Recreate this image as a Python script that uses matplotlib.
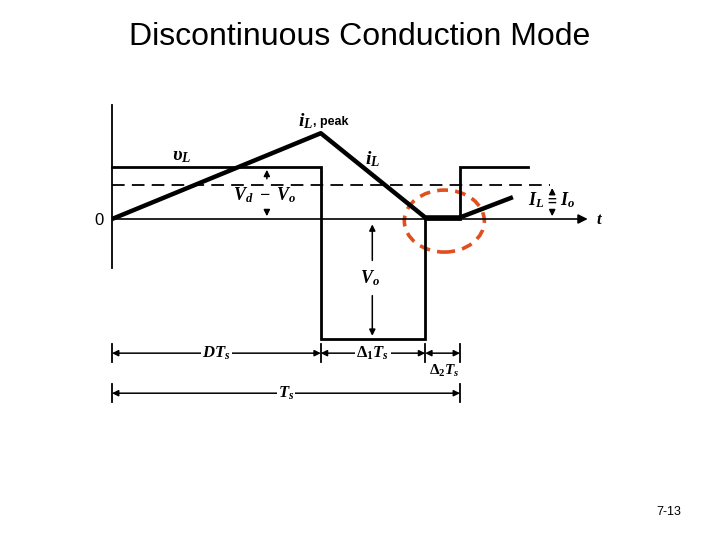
import matplotlib.pyplot as plt
from matplotlib.patches import Ellipse

plt.rcParams['font.family'] = ['Liberation Sans', 'DejaVu Sans']
plt.rcParams['mathtext.fontset'] = 'custom'
plt.rcParams['mathtext.it'] = 'Liberation Serif:italic:bold'
plt.rcParams['mathtext.rm'] = 'Liberation Serif:bold'
plt.rcParams['mathtext.bf'] = 'Liberation Serif:italic:bold'

# waveform data (time in units of Ts, levels in units of Vd - Vo)
D = 0.60          # DTs
delta1 = 0.30     # Δ1Ts
delta2 = 0.10     # Δ2Ts
Vd_minus_Vo = 1.0
Vo = 2.3
iL_peak = 1.65
IL = 0.65
t_end = 1.195

vL_t = [0, D, D, D + delta1, D + delta1, D + delta1 + delta2, D + delta1 + delta2, t_end]
vL_v = [Vd_minus_Vo, Vd_minus_Vo, -Vo, -Vo, 0, 0, Vd_minus_Vo, Vd_minus_Vo]
iL_t = [0, D, D + delta1, D + delta1 + delta2, 1.152]
iL_v = [0, iL_peak, 0.03, 0.03, 0.42]

Ts = D + delta1 + delta2

fig = plt.figure(figsize=(7.2, 5.4), dpi=100)
ax = fig.add_axes([0, 0, 1, 1])
ax.set_xlim(-112 / 348, 608 / 348)
ax.set_ylim(-321 / 52, 219 / 52)
ax.axis('off')

k = 'black'
# axes of the diagram
ax.plot([0, 0], [-0.95, 2.19], color=k, lw=1.3)
ax.annotate('', xy=(1.375, 0), xytext=(0, 0),
            arrowprops=dict(arrowstyle='-|>', color=k, lw=1.2, mutation_scale=14))
ax.text(1.39, 0, '$t$', fontsize=12, va='center', ha='left')
ax.text(-0.025, -0.03, '0', fontsize=12, va='center', ha='right')

# dashed average level
ax.plot([0, 1.26], [IL, IL], color=k, lw=1.3, dashes=(7, 4))

# vL and iL
ax.plot(vL_t, vL_v, color=k, lw=2.0, solid_joinstyle='miter')
ax.plot(iL_t, iL_v, color=k, lw=3.2, solid_capstyle='butt')

# labels
ax.text(0.2, 1.2, r'$\upsilon_L$', fontsize=14, ha='center', va='center')
ax.text(0.577, 1.88, r'$i_L$', fontsize=14, ha='right', va='center')
ax.text(0.577, 1.86, ', peak', fontsize=9, ha='left', va='center',
        family='Liberation Sans', fontweight='bold')
ax.text(0.75, 1.15, r'$i_L$', fontsize=14, ha='center', va='center')
ax.text(0.44, 0.45, r'$V_d\ -\ V_o$', fontsize=13, ha='center', va='center')
ax.text(0.74, -1.13, r'$V_o$', fontsize=13, ha='center', va='center')
ax.text(1.22, 0.36, r'$I_L$', fontsize=13, ha='center', va='center')
ax.text(1.31, 0.36, r'$I_o$', fontsize=13, ha='center', va='center')
ax.text(1.265, 0.34, '=', fontsize=11, ha='center', va='center', fontweight='bold')

arr = dict(arrowstyle='-|>', color=k, lw=1.1, mutation_scale=9)
ax.annotate('', xy=(0.445, Vd_minus_Vo), xytext=(0.445, 0.72), arrowprops=arr)
ax.annotate('', xy=(0.445, 0), xytext=(0.445, 0.2), arrowprops=arr)
ax.annotate('', xy=(0.748, -0.05), xytext=(0.748, -0.85), arrowprops=arr)
ax.annotate('', xy=(0.748, -Vo), xytext=(0.748, -1.42), arrowprops=arr)
ax.annotate('', xy=(1.265, IL), xytext=(1.265, 0.44), arrowprops=arr)
ax.annotate('', xy=(1.265, 0), xytext=(1.265, 0.22), arrowprops=arr)

# dimension lines
y1 = -2.58
y2 = -3.35
for t in [0, D, D + delta1, Ts]:
    ax.plot([t, t], [y1 - 0.17, y1 + 0.17], color=k, lw=1.3)
for t in [0, Ts]:
    ax.plot([t, t], [y2 - 0.17, y2 + 0.17], color=k, lw=1.3)
darr = dict(arrowstyle='<|-|>', color=k, lw=1.1, mutation_scale=9, shrinkA=0, shrinkB=0)
ax.annotate('', xy=(0, y1), xytext=(D, y1), arrowprops=darr)
ax.annotate('', xy=(D, y1), xytext=(D + delta1, y1), arrowprops=darr)
ax.annotate('', xy=(D + delta1, y1), xytext=(Ts, y1), arrowprops=darr)
ax.annotate('', xy=(0, y2), xytext=(Ts, y2), arrowprops=darr)
ax.text(D / 2, y1, '$DT_s$', fontsize=12, ha='center', va='center',
        bbox=dict(fc='white', ec='none', pad=1))
ax.text(D + delta1 / 2, y1, r'$\Delta_1T_s$', fontsize=12, ha='center', va='center',
        bbox=dict(fc='white', ec='none', pad=1))
ax.text(D + delta1 + delta2 / 2 + 0.005, y1 - 0.35, r'$\Delta_2T_s$', fontsize=11,
        ha='center', va='center')
ax.text(Ts / 2, y2, '$T_s$', fontsize=12, ha='center', va='center',
        bbox=dict(fc='white', ec='none', pad=1))

# highlighted region
ax.add_patch(Ellipse((D + delta1 + delta2 * 0.55, -0.04), 80 / 348, 62 / 52,
                     fill=False, ec='#e0501e', lw=2.6, ls=(0, (3, 2))))

fig.text(0.5, 1 - 37 / 540, 'Discontinuous Conduction Mode', fontsize=23,
         ha='center', va='center')
fig.text(669 / 720, 1 - 512 / 540, '7-13', fontsize=9, ha='center', va='center')

fig.savefig('out.png', dpi=100)
